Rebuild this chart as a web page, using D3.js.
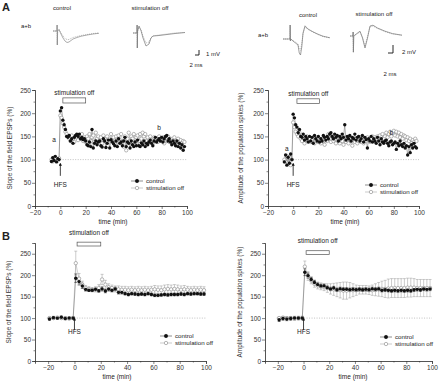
<!DOCTYPE html>
<html>
<head>
<meta charset="utf-8">
<script src="https://cdn.jsdelivr.net/npm/d3@7"></script>
<style>
  body { margin: 0; background: #fff; }
  svg { display: block; font-family: "Liberation Sans", Arial, sans-serif; }
</style>
</head>
<body>
<div id="chart"></div>
<script>
var w = 440, h = 383;

// ---- panel A time courses (min) ----
var timeA = [-7,-6,-5,-4,-3,-2,-1,0,1,2,3,4,5,6,7,8,9,10,11,12,13,14,15,16,17,18,19,20,21,22,23,24,25,26,27,28,29,30,31,32,33,34,35,36,37,38,39,40,41,42,43,44,45,46,47,48,49,50,51,52,53,54,55,56,57,58,59,60,61,62,63,64,65,66,67,68,69,70,71,72,73,74,75,76,77,78,79,80,81,82,83,84,85,86,87,88,89,90,91,92,93,94,95,96,97,98];

var slopeControl = [96,104,98,107,95,102,100,205,212,185,175,165,150,148,152,140,145,135,148,152,155,150,155,145,148,143,145,140,132,130,138,128,165,125,135,140,132,138,140,130,127,145,140,126,135,142,125,143,138,134,130,140,128,145,135,138,130,140,148,128,138,135,125,140,132,128,138,130,142,130,128,136,132,140,128,135,132,138,142,135,130,140,148,138,142,145,140,148,138,145,150,152,140,145,138,132,140,135,130,140,128,135,125,132,120,128];
var slopeOff = [100,96,104,99,102,98,103,195,190,178,170,160,155,150,145,140,152,145,138,150,148,142,150,145,155,140,148,138,150,145,155,140,148,152,138,158,145,150,140,148,135,152,145,140,150,138,145,155,140,148,135,150,143,152,138,155,140,128,150,120,145,158,140,150,145,155,138,148,152,140,155,145,158,150,155,140,148,138,150,142,135,148,140,145,138,150,145,140,148,135,145,140,150,138,145,140,135,148,140,130,145,138,142,135,140,138];

var spikeControl = [95,110,88,105,92,112,100,198,190,175,170,158,165,150,148,155,142,150,145,138,150,140,148,135,152,145,140,150,138,145,140,152,148,142,150,145,155,158,150,145,155,148,152,140,150,145,155,148,175,142,150,145,152,140,148,145,155,142,148,150,140,145,152,138,148,143,125,145,140,150,138,145,140,135,148,140,132,145,138,135,140,142,135,130,138,140,132,135,138,122,135,130,140,132,128,135,125,130,110,128,115,132,125,135,128,125];
var spikeOff = [100,95,108,92,105,88,100,180,170,160,155,150,158,145,140,148,135,142,150,140,145,138,142,148,135,140,145,138,142,135,145,140,132,145,140,155,145,138,150,140,145,135,148,140,135,145,140,132,148,138,142,135,145,140,130,142,138,145,135,140,148,138,142,135,145,140,148,142,138,145,150,140,148,142,150,145,152,148,155,145,150,158,148,155,160,150,158,162,152,160,150,158,148,155,145,152,150,142,148,140,145,135,142,138,145,140];

// ---- panel B means +/- sem ----
var timeB = [-19,-16,-13,-10,-7,-4,-1,1,3.5,6,8.5,11,13.5,16,18.5,21,23.5,26,28.5,31,33.5,36,38.5,41,43.5,46,48.5,51,53.5,56,58.5,61,63.5,66,68.5,71,73.5,76,78.5,81,83.5,86,88.5,91,93.5,96,98.5];

var slopeCtlMean = [98,101,100,102,99,100,100,193,185,175,167,165,165,167,164,168,163,168,165,168,160,160,157,155,157,156,155,156,155,157,155,153,153,154,155,154,155,155,155,156,155,157,156,157,157,156,156];
var slopeCtlErr  = [3,3,3,3,3,3,3,10,8,6,4,3,3,3,4,5,4,5,4,4,4,4,3,3,3,3,3,3,3,3,3,3,3,3,3,3,3,3,3,3,3,3,3,3,3,3,3];
var slopeOffMean = [100,100,101,100,100,99,100,228,192,178,170,168,166,167,170,190,178,172,170,168,167,166,166,165,166,165,166,165,166,165,166,167,166,165,167,168,167,168,167,166,167,166,165,166,165,166,165];
var slopeOffErr  = [3,3,3,3,3,3,3,28,12,8,6,5,5,6,8,12,10,8,7,7,8,8,8,8,8,8,8,8,8,8,8,9,9,10,10,10,10,10,10,9,9,8,8,8,8,8,8];

var spikeCtlMean = [96,99,98,99,100,100,100,207,199,190,183,178,175,175,171,168,170,166,168,167,167,166,167,166,167,166,167,166,168,167,168,165,166,165,164,165,164,165,164,165,164,166,167,166,168,167,168];
var spikeCtlErr  = [4,4,4,4,4,4,4,8,6,5,5,4,4,4,4,4,4,4,4,4,4,4,4,4,4,4,4,4,4,4,4,4,4,4,4,4,4,4,4,4,4,4,4,4,4,4,4];
var spikeOffMean = [100,101,100,100,99,100,100,220,198,188,180,176,174,172,170,168,167,166,165,164,164,165,165,165,166,166,166,165,165,166,167,168,168,169,170,170,170,170,170,171,171,171,170,170,170,170,170];
var spikeOffErr  = [3,3,3,3,3,3,3,13,10,8,8,8,8,8,10,12,14,16,18,20,20,18,15,12,10,10,10,10,12,14,16,18,20,22,22,22,22,22,22,22,22,21,20,20,20,20,20];

// ---- example traces (ms, mV) ----
var trLeftCtlT = [0,2,2.05,2.15,2.3,3,4,5,6,7,8,9,10,12,14,17,20,23];
var trLeftCtlB = [0,0,1.2,-2.8,0,0.3,-0.6,-1.4,-2.0,-2.3,-2.2,-1.9,-1.6,-1.3,-1.05,-0.8,-0.6,-0.45];
var trLeftCtlA = [0,0,1.2,-2.8,0,0.3,-0.4,-1.0,-1.5,-1.7,-1.7,-1.5,-1.3,-1.1,-0.9,-0.7,-0.5,-0.4];
var trLeftOffT = [0,2,2.05,2.15,2.3,3,4,5,6.5,8,9,10,13,17,21,26];
var trLeftOffB = [0,0,1.6,-3,0.4,1.4,0.5,-1,-2.6,-2.2,-1.0,-0.6,-0.5,-0.3,-0.1,0.1];
var trLeftOffA = [0,0,1.6,-3,0.4,1.2,0.6,-0.6,-2.0,-1.8,-0.9,-0.6,-0.4,-0.2,0,0.1];

var trRightCtlT = [0,2.8,2.85,2.95,3.1,4,5,6,6.5,7,7.5,8,8.8,10,12,14,16,18.8];
var trRightCtlB = [0,0,3.5,-0.5,0,-0.5,-1,-1.5,-3.5,-4,-2,1.5,3.3,2.5,1.8,1.2,0.7,0.3];
var trRightCtlA = [0,0,3.5,-0.5,0,-0.4,-0.8,-1.2,-2.5,-2.8,-1.2,1.2,3.0,2.4,1.7,1.1,0.6,0.3];
var trRightOffT = [0,1.2,1.25,1.35,1.5,2.5,4,5,6,7,8,9.2,11,14,17,20.8];
var trRightOffB = [0,0,1,-4,0,0.5,1.2,-0.5,-3,-0.5,2.5,2.7,2.0,1.2,0.6,0.2];
var trRightOffA = [0,0,1,-4.2,0,0.4,1.0,-0.3,-2.6,-0.2,2.3,2.5,1.9,1.1,0.5,0.2];

var svg = d3.select("#chart").append("svg")
    .attr("width", w).attr("height", h);
svg.append("rect").attr("width", w).attr("height", h).attr("fill", "#fff");

svg.append("defs").append("marker")
    .attr("id", "arrow")
    .attr("viewBox", "0 0 10 10")
    .attr("refX", 5).attr("refY", 5)
    .attr("markerWidth", 4).attr("markerHeight", 4)
    .attr("orient", "auto")
    .append("path").attr("d", "M0,0 L10,5 L0,10 z").attr("fill", "#111");

function txt(x, y, s, size, anchor, weight) {
    return svg.append("text")
        .attr("x", x).attr("y", y)
        .attr("font-size", size)
        .attr("text-anchor", anchor || "start")
        .attr("font-weight", weight || "normal")
        .attr("fill", "#222")
        .text(s);
}

// ---- traces ----
function trace(x0, y0, pxMs, pxMv, t, v, dash, col) {
    var x = d3.scaleLinear().domain([0, 1]).range([x0, x0 + pxMs]);
    var y = d3.scaleLinear().domain([0, 1]).range([y0, y0 - pxMv]);
    var line = d3.line().x((d, i) => x(t[i])).y((d) => y(d));
    svg.append("path")
        .attr("d", line(v))
        .attr("fill", "none")
        .attr("stroke", col)
        .attr("stroke-width", 0.7)
        .attr("stroke-dasharray", dash);
}
function scaleBar(x, y, pxMs, pxMv, ms, mv) {
    svg.append("path")
        .attr("d", "M" + (x - ms * pxMs) + "," + y + "H" + x + "V" + (y - mv * pxMv))
        .attr("fill", "none").attr("stroke", "#111").attr("stroke-width", 0.9);
}

txt(2, 11, "A", 11, "start", "bold");
txt(62, 10, "control", 6, "middle");
txt(150, 10, "stimulation off", 6, "middle");
txt(26, 28, "a+b", 6, "middle");
trace(53, 31, 2, 5, trLeftCtlT, trLeftCtlA, "1,1", "#999");
trace(53, 31, 2, 5, trLeftCtlT, trLeftCtlB, null, "#888");
trace(133, 33, 2, 5, trLeftOffT, trLeftOffA, "1,1", "#999");
trace(133, 33, 2, 5, trLeftOffT, trLeftOffB, null, "#777");
scaleBar(199, 55, 2, 5, 2, 1);
txt(206, 56, "1 mV", 6);
txt(196, 67, "2 ms", 6, "middle");

txt(308, 17, "control", 6, "middle");
txt(374, 16, "stimulation off", 6, "middle");
txt(263, 37, "a+b", 6, "middle");
trace(283, 39, 2.5, 4, trRightCtlT, trRightCtlA, "1,1", "#999");
trace(283, 39, 2.5, 4, trRightCtlT, trRightCtlB, null, "#777");
trace(350, 36, 2.5, 4, trRightOffT, trRightOffA, "1,1", "#999");
trace(350, 36, 2.5, 4, trRightOffT, trRightOffB, null, "#777");
scaleBar(393, 53, 2.5, 4, 2, 2);
txt(402, 54, "2 mV", 6);
txt(390, 76, "2 ms", 6, "middle");

// ---- scatter panels ----
function panel(cfg) {
    var x = d3.scaleLinear().domain(cfg.xDom).range(cfg.xRange);
    var y = d3.scaleLinear().domain(cfg.yDom).range(cfg.yRange);
    var g = svg.append("g");

    // dotted 100% line
    g.append("line")
        .attr("x1", x(cfg.refFrom)).attr("x2", x(100))
        .attr("y1", y(100)).attr("y2", y(100))
        .attr("stroke", "#999").attr("stroke-width", 0.6)
        .attr("stroke-dasharray", "1,1.5");

    var line = d3.line().x((d) => x(d[0])).y((d) => y(d[1]));
    var off = cfg.time.map((t, i) => [t, cfg.off[i], cfg.offErr ? cfg.offErr[i] : 0]);
    var ctl = cfg.time.map((t, i) => [t, cfg.ctl[i], cfg.ctlErr ? cfg.ctlErr[i] : 0]);

    g.append("path").attr("d", line(off)).attr("fill", "none")
        .attr("stroke", "#aaa").attr("stroke-width", 0.5);
    g.append("path").attr("d", line(ctl)).attr("fill", "none")
        .attr("stroke", "#444").attr("stroke-width", 0.4);

    if (cfg.offErr) {
        [[off, "#999"], [ctl, "#222"]].forEach(function (p) {
            var eb = g.selectAll(null).data(p[0]).enter().append("g")
                .attr("stroke", p[1]).attr("stroke-width", 0.5);
            eb.append("line").attr("x1", (d) => x(d[0])).attr("x2", (d) => x(d[0]))
                .attr("y1", (d) => y(d[1] - d[2])).attr("y2", (d) => y(d[1] + d[2]));
            eb.append("line").attr("x1", (d) => x(d[0]) - 1.5).attr("x2", (d) => x(d[0]) + 1.5)
                .attr("y1", (d) => y(d[1] + d[2])).attr("y2", (d) => y(d[1] + d[2]));
            eb.append("line").attr("x1", (d) => x(d[0]) - 1.5).attr("x2", (d) => x(d[0]) + 1.5)
                .attr("y1", (d) => y(d[1] - d[2])).attr("y2", (d) => y(d[1] - d[2]));
        });
    }

    g.selectAll(null).data(off).enter().append("circle")
        .attr("cx", (d) => x(d[0])).attr("cy", (d) => y(d[1]))
        .attr("r", 1.7).attr("fill", "#fff")
        .attr("stroke", "#888").attr("stroke-width", 0.6);
    g.selectAll(null).data(ctl).enter().append("circle")
        .attr("cx", (d) => x(d[0])).attr("cy", (d) => y(d[1]))
        .attr("r", 1.7).attr("fill", "#111");

    // axes
    var xAxis = d3.axisBottom(x).tickValues(cfg.xTicks).tickSize(3).tickPadding(1);
    var yAxis = d3.axisLeft(y).tickValues(cfg.yTicks).tickSize(3).tickPadding(1);
    g.append("g").attr("transform", "translate(0," + cfg.yRange[0] + ")").call(xAxis);
    g.append("g").attr("transform", "translate(" + cfg.xRange[0] + ",0)").call(yAxis);
    g.append("g").attr("transform", "translate(0," + cfg.yRange[0] + ")")
        .call(d3.axisBottom(x).tickValues(cfg.xMinor).tickSize(1.5).tickFormat(""));
    g.append("g").attr("transform", "translate(" + cfg.xRange[0] + ",0)")
        .call(d3.axisLeft(y).tickValues(cfg.yMinor).tickSize(1.5).tickFormat(""));
    g.selectAll(".domain, .tick line").attr("stroke", "#333").attr("stroke-width", 0.6);
    g.selectAll(".tick text").attr("font-size", 6.5).attr("fill", "#333")
        .attr("font-family", "Liberation Sans, Arial, sans-serif");

    txt(cfg.xTitle[0], cfg.xTitle[1], "time (min)", 6.5, "middle");
    svg.append("text")
        .attr("transform", "translate(" + cfg.yTitle[0] + "," + cfg.yTitle[1] + ") rotate(-90)")
        .attr("text-anchor", "middle").attr("font-size", 6.5).attr("fill", "#333")
        .text(cfg.yLabel);

    // stimulation off box
    g.append("rect")
        .attr("x", x(cfg.box[0])).attr("y", y(cfg.box[2]))
        .attr("width", x(cfg.box[1]) - x(cfg.box[0]))
        .attr("height", y(cfg.box[3]) - y(cfg.box[2]))
        .attr("fill", "#fff").attr("stroke", "#555").attr("stroke-width", 0.7);
    txt(x((cfg.box[0] + cfg.box[1]) / 2), y(cfg.boxLabelY), "stimulation off", 6.5, "middle");

    // HFS arrow
    g.append("line")
        .attr("x1", x(0)).attr("x2", x(0))
        .attr("y1", y(cfg.hfs[0])).attr("y2", y(cfg.hfs[1]))
        .attr("stroke", "#111").attr("stroke-width", 0.8)
        .attr("marker-end", "url(#arrow)");
    txt(x(0), y(cfg.hfs[2]), "HFS", 6.5, "middle");

    if (cfg.ab) {
        txt(x(cfg.ab[0]), y(cfg.ab[1]), "a", 6.5, "middle");
        txt(x(cfg.ab[2]), y(cfg.ab[3]), "b", 6.5, "middle");
    }

    // legend
    var lx = cfg.legend[0], ly = cfg.legend[1];
    [["control", "#111", "#444", "#111"], ["stimulation off", "#888", "#aaa", "#fff"]].forEach(function (d, i) {
        var yy = ly + i * 7;
        g.append("line").attr("x1", lx).attr("x2", lx + 12).attr("y1", yy).attr("y2", yy)
            .attr("stroke", d[2]).attr("stroke-width", 0.6);
        g.append("circle").attr("cx", lx + 6).attr("cy", yy).attr("r", 1.7)
            .attr("fill", d[3]).attr("stroke", d[1]).attr("stroke-width", 0.6);
        txt(lx + 15, yy + 2.2, d[0], 6.2);
    });
}

panel({
    xDom: [-20, 100], xRange: [35, 187], yDom: [0, 250], yRange: [206, 90],
    xTicks: [-20, 0, 20, 40, 60, 80, 100], xMinor: [-10, 10, 30, 50, 70, 90],
    yTicks: [0, 50, 100, 150, 200, 250], yMinor: [25, 75, 125, 175, 225],
    time: timeA, ctl: slopeControl, off: slopeOff, refFrom: -8,
    xTitle: [113, 224], yTitle: [12, 148], yLabel: "Slope of the field EPSPs (%)",
    box: [2, 20, 233, 222], boxLabelY: 240, hfs: [65, 90, 42], ab: [-5, 138, 78, 163],
    legend: [131, 181]
});
panel({
    xDom: [-20, 100], xRange: [268, 419], yDom: [0, 250], yRange: [206, 90],
    xTicks: [-20, 0, 20, 40, 60, 80, 100], xMinor: [-10, 10, 30, 50, 70, 90],
    yTicks: [0, 50, 100, 150, 200, 250], yMinor: [25, 75, 125, 175, 225],
    time: timeA, ctl: spikeControl, off: spikeOff, refFrom: -8,
    xTitle: [345, 224], yTitle: [243, 148], yLabel: "Amplitude of the population spikes (%)",
    box: [3, 21, 231, 221], boxLabelY: 238, hfs: [65, 90, 42], ab: [-5, 118, 78, 152],
    legend: [365, 185]
});
txt(2, 240, "B", 11, "start", "bold");
panel({
    xDom: [-30, 100], xRange: [35, 206], yDom: [0, 275], yRange: [361, 243],
    xTicks: [-20, 0, 20, 40, 60, 80, 100], xMinor: [-30, -10, 10, 30, 50, 70, 90],
    yTicks: [0, 50, 100, 150, 200, 250], yMinor: [25, 75, 125, 175, 225],
    time: timeB, ctl: slopeCtlMean, off: slopeOffMean, ctlErr: slopeCtlErr, offErr: slopeOffErr,
    refFrom: -21,
    xTitle: [117, 379], yTitle: [11, 302], yLabel: "Slope of the field EPSPs (%)",
    box: [2, 20, 277, 268], boxLabelY: 293, hfs: [72, 98, 64],
    legend: [160, 336]
});
panel({
    xDom: [-30, 100], xRange: [265, 432], yDom: [0, 275], yRange: [361, 243],
    xTicks: [-20, 0, 20, 40, 60, 80, 100], xMinor: [-30, -10, 10, 30, 50, 70, 90],
    yTicks: [0, 50, 100, 150, 200, 250], yMinor: [25, 75, 125, 175, 225],
    time: timeB, ctl: spikeCtlMean, off: spikeOffMean, ctlErr: spikeCtlErr, offErr: spikeOffErr,
    refFrom: -21,
    xTitle: [353, 379], yTitle: [242, 302], yLabel: "Amplitude of the population spikes (%)",
    box: [2, 20, 257, 248], boxLabelY: 275, hfs: [72, 98, 64],
    legend: [380, 337]
});
</script>
</body>
</html>
